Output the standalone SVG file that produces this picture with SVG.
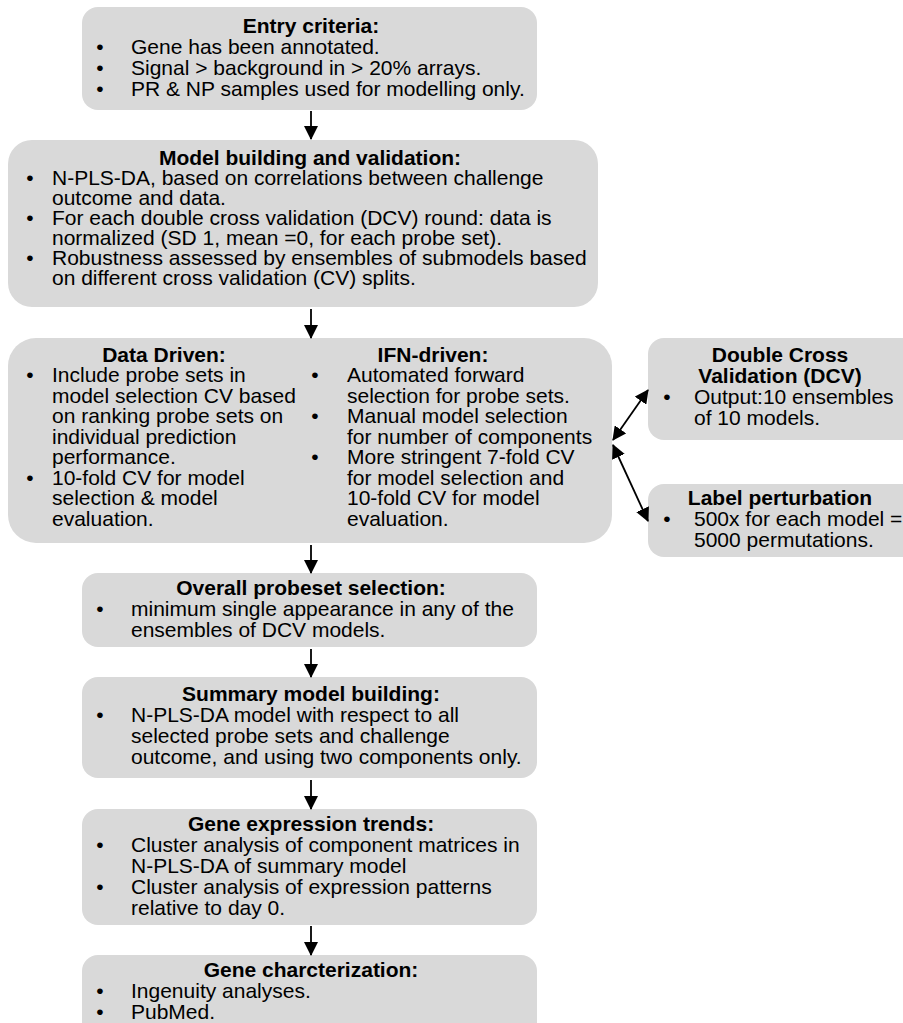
<svg xmlns="http://www.w3.org/2000/svg" width="903" height="1023" viewBox="0 0 903 1023">
<style>
.box{fill:#d9d9d9;stroke:none}
text{font-family:"Liberation Sans",Arial,sans-serif;font-size:21px;fill:#000}
.t{font-weight:bold;text-anchor:middle}
.b{text-anchor:middle}
.c{stroke:#000;stroke-width:1.8;fill:none}
</style>
<defs>
<marker id="ah" markerUnits="userSpaceOnUse" markerWidth="14" markerHeight="14" refX="13" refY="7" orient="auto-start-reverse">
<path d="M0,0 L14,7 L0,14 z" fill="#000"/>
</marker>
</defs>
<rect width="903" height="1023" fill="#fff"/>
<g id="entry">
<rect class="box" x="82" y="7" width="455" height="103" rx="16"/>
<text class="t" x="311" y="33">Entry criteria:</text>
<text class="b" x="100" y="54">•</text><text x="131" y="54">Gene has been annotated.</text>
<text class="b" x="100" y="75">•</text><text x="131" y="75">Signal &gt; background in &gt; 20% arrays.</text>
<text class="b" x="100" y="96">•</text><text x="131" y="96">PR &amp; NP samples used for modelling only.</text>
</g>
<g id="model">
<rect class="box" x="8" y="140" width="590" height="167" rx="24"/>
<text class="t" x="310" y="165">Model building and validation:</text>
<text class="b" x="30" y="185">•</text><text x="52" y="185">N-PLS-DA, based on correlations between challenge</text>
<text x="52" y="205">outcome and data.</text>
<text class="b" x="30" y="225">•</text><text x="52" y="225">For each double cross validation (DCV) round: data is</text>
<text x="52" y="245">normalized (SD 1, mean =0, for each probe set).</text>
<text class="b" x="30" y="265">•</text><text x="52" y="265">Robustness assessed by ensembles of submodels based</text>
<text x="52" y="285">on different cross validation (CV) splits.</text>
</g>
<g id="selection">
<rect class="box" x="8" y="338" width="604" height="205" rx="28"/>
<text class="t" x="164" y="362">Data Driven:</text>
<text class="b" x="30" y="382">•</text><text x="52" y="382">Include probe sets in</text>
<text x="52" y="402.5">model selection CV based</text>
<text x="52" y="423">on ranking probe sets on</text>
<text x="52" y="443.5">individual prediction</text>
<text x="52" y="464">performance.</text>
<text class="b" x="30" y="484.5">•</text><text x="52" y="484.5">10-fold CV for model</text>
<text x="52" y="505">selection &amp; model</text>
<text x="52" y="525.5">evaluation.</text>
<text class="t" x="433" y="362">IFN-driven:</text>
<text class="b" x="315" y="382">•</text><text x="347" y="382">Automated forward</text>
<text x="347" y="402.5">selection for probe sets.</text>
<text class="b" x="315" y="423">•</text><text x="347" y="423">Manual model selection</text>
<text x="347" y="443.5">for number of components</text>
<text class="b" x="315" y="464">•</text><text x="347" y="464">More stringent 7-fold CV</text>
<text x="347" y="484.5">for model selection and</text>
<text x="347" y="505">10-fold CV for model</text>
<text x="347" y="525.5">evaluation.</text>
</g>
<g id="dcv">
<rect class="box" x="648" y="338" width="280" height="102" rx="16"/>
<text class="t" x="780" y="362">Double Cross</text>
<text class="t" x="780" y="383">Validation (DCV)</text>
<text class="b" x="667" y="404">•</text><text x="694" y="404">Output:10 ensembles</text>
<text x="694" y="425">of 10 models.</text>
</g>
<g id="label">
<rect class="box" x="648" y="484" width="280" height="73" rx="16"/>
<text class="t" x="780" y="505">Label perturbation</text>
<text class="b" x="667" y="526">•</text><text x="694" y="526">500x for each model =</text>
<text x="694" y="547">5000 permutations.</text>
</g>
<g id="overall">
<rect class="box" x="82" y="573" width="455" height="74" rx="16"/>
<text class="t" x="311" y="595">Overall probeset selection:</text>
<text class="b" x="100" y="616">•</text><text x="131" y="616">minimum single appearance in any of the</text>
<text x="131" y="637">ensembles of DCV models.</text>
</g>
<g id="summary">
<rect class="box" x="82" y="677" width="455" height="101" rx="16"/>
<text class="t" x="311" y="701">Summary model building:</text>
<text class="b" x="100" y="722">•</text><text x="131" y="722">N-PLS-DA model with respect to all</text>
<text x="131" y="743">selected probe sets and challenge</text>
<text x="131" y="764">outcome, and using two components only.</text>
</g>
<g id="trends">
<rect class="box" x="82" y="809" width="455" height="116" rx="16"/>
<text class="t" x="311" y="831">Gene expression trends:</text>
<text class="b" x="100" y="852">•</text><text x="131" y="852">Cluster analysis of component matrices in</text>
<text x="131" y="873">N-PLS-DA of summary model</text>
<text class="b" x="100" y="894">•</text><text x="131" y="894">Cluster analysis of expression patterns</text>
<text x="131" y="915">relative to day 0.</text>
</g>
<g id="characterization">
<rect class="box" x="82" y="955" width="455" height="100" rx="16"/>
<text class="t" x="311" y="977">Gene charcterization:</text>
<text class="b" x="100" y="998">•</text><text x="131" y="998">Ingenuity analyses.</text>
<text class="b" x="100" y="1019">•</text><text x="131" y="1019">PubMed.</text>
</g>
<g id="connectors">
<line class="c" x1="311" y1="111" x2="311" y2="139" marker-end="url(#ah)"/>
<line class="c" x1="311" y1="309" x2="311" y2="338" marker-end="url(#ah)"/>
<line class="c" x1="311" y1="545" x2="311" y2="573" marker-end="url(#ah)"/>
<line class="c" x1="311" y1="649" x2="311" y2="677" marker-end="url(#ah)"/>
<line class="c" x1="311" y1="780" x2="311" y2="809" marker-end="url(#ah)"/>
<line class="c" x1="311" y1="926" x2="311" y2="955" marker-end="url(#ah)"/>
<line class="c" x1="613" y1="440" x2="648" y2="390" marker-start="url(#ah)" marker-end="url(#ah)"/>
<line class="c" x1="613" y1="445" x2="648" y2="521" marker-start="url(#ah)" marker-end="url(#ah)"/>
</g>
</svg>
